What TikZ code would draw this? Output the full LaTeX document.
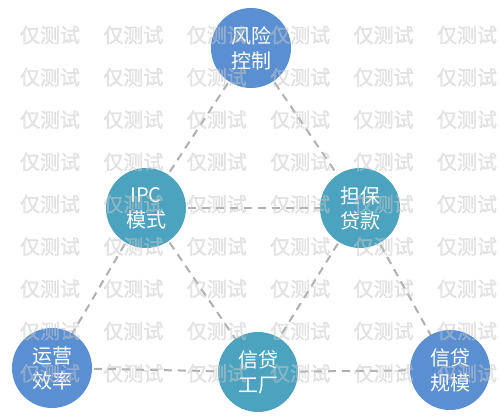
\documentclass[tikz,border=0pt]{standalone}
\usepackage{fontspec}
\newfontfamily\cjk{Noto Sans CJK SC}
\newfontfamily\cjkwm[FakeBold=1.6]{Noto Sans CJK SC}
\definecolor{cblue}{HTML}{5A8FD2}
\definecolor{cteal}{HTML}{4BA3C0}
\definecolor{dgray}{HTML}{B0B0B0}
\definecolor{wmgray}{HTML}{C8C8C8}
\tikzset{
  ball/.style={circle, minimum size=80pt, inner sep=0pt, text=white, align=center,
    font=\cjk\fontsize{20}{25}\selectfont},
  bluec/.style={ball, fill=cblue},
  tealc/.style={ball, fill=cteal},
  dline/.style={draw=dgray, line width=2pt, dash pattern=on 8pt off 6pt},
  wmark/.style={text=wmgray, text opacity=0.45, inner sep=0pt, font=\cjkwm\fontsize{20}{20}\selectfont}
}
\begin{document}
\begin{tikzpicture}[x=1pt,y=-1pt]
\useasboundingbox (0,0) rectangle (499,419);
\fill[white] (0,0) rectangle (499,419);
% connectors (drawn between centres, under the circles)
\coordinate (cA) at (251,48);
\coordinate (cB) at (146,208);
\coordinate (cC) at (360,208);
\coordinate (cD) at (52,368);
\coordinate (cE) at (258,372);
\coordinate (cF) at (450,370);
\draw[dline] (cA) -- (cB);
\draw[dline] (cB) -- (cD);
\draw[dline] (cA) -- (cC);
\draw[dline] (cC) -- (cF);
\draw[dline] (cD) -- (cE);
\draw[dline] (cE) -- (cF);
\draw[dline] (cB) -- (cC);
\draw[dline] (cB) -- (cE);
\draw[dline] (cC) -- (cE);
% circles
\node[bluec] (A) at (cA) {风险\\控制};
\node[tealc] (B) at (cB) {IPC\\模式};
\node[tealc] (C) at (cC) {担保\\贷款};
\node[bluec] (D) at (cD) {运营\\效率};
\node[tealc] (E) at (cE) {信贷\\工厂};
\node[bluec] (F) at (cF) {信贷\\规模};
% watermark
\foreach \r in {0,...,8}{
  \foreach \c in {0,...,5}{
    \node[wmark] (wm-\r-\c) at ({50+83.4*\c},{35+42.3*\r}) {仅测试};
  }
}
\end{tikzpicture}
\end{document}
